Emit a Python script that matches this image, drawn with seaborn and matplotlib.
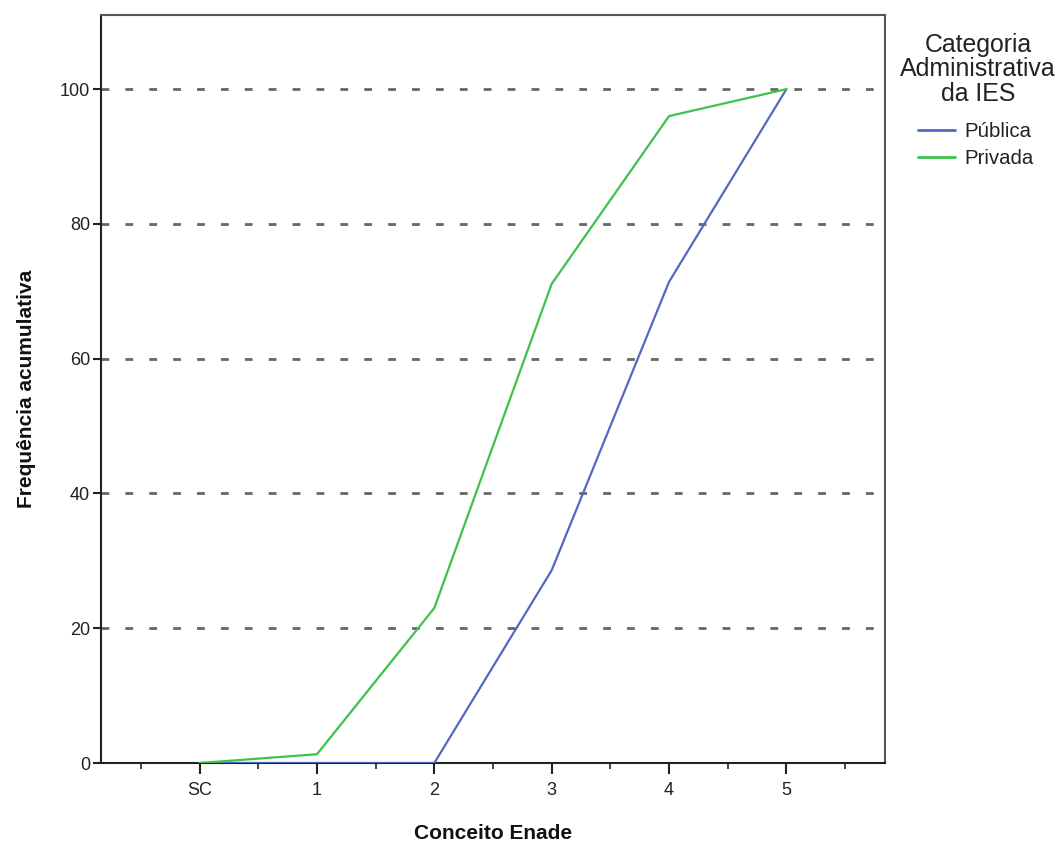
import matplotlib
matplotlib.use("Agg")
import matplotlib.pyplot as plt
import seaborn as sns
import pandas as pd
import numpy as np
from matplotlib.ticker import MultipleLocator
from matplotlib.lines import Line2D

categories = ["SC", "1", "2", "3", "4", "5"]
publica = [0.0, 0.0, 0.0, 28.6, 71.4, 100.0]
privada = [0.0, 1.3, 23.0, 71.1, 96.0, 100.0]
series_names = ["Pública", "Privada"]
yticks = [0, 20, 40, 60, 80, 100]
legend_title = "Categoria\nAdministrativa\nda IES"

sns.set_theme(style="white")
plt.rcParams['font.family'] = ['Liberation Sans', 'DejaVu Sans']

df = pd.DataFrame({
    "pos": list(range(len(categories))) * 2,
    "freq": publica + privada,
    "cat": [series_names[0]] * len(categories) + [series_names[1]] * len(categories),
})

fig = plt.figure(figsize=(10.58, 8.43), dpi=100)
ax = fig.add_axes([101/1058, 1 - 763/843, (885-101)/1058, (763-15)/843])

for y in yticks:
    ax.axhline(y, color="#666666", lw=2.0, ls=(0, (2.8, 5.8)), zorder=1)

palette = {"Pública": "#5468c2", "Privada": "#3dc24b"}
sns.lineplot(data=df, x="pos", y="freq", hue="cat", palette=palette,
             hue_order=series_names, lw=1.6, ax=ax, zorder=3, legend=False)

ax.set_xlim(-0.84, 5.84)
ax.set_ylim(0, 111)
ax.set_xticks(range(len(categories)))
ax.set_xticklabels(categories)
ax.xaxis.set_minor_locator(MultipleLocator(1, offset=0.5))
ax.set_yticks(yticks)
ax.tick_params(axis="x", which="major", direction="out", length=8, width=1.5,
               color="#222222", labelsize=13, pad=6, bottom=True, labelcolor="#222222")
ax.tick_params(axis="x", which="minor", direction="out", length=4, width=1.2,
               color="#222222", bottom=True)
ax.tick_params(axis="y", which="major", direction="out", length=6, width=1.5,
               color="#222222", labelsize=13, pad=2, left=True, labelcolor="#222222")
for s in ax.spines.values():
    s.set_color("#555555")
    s.set_linewidth(1.5)
ax.spines["bottom"].set_color("#222222")
ax.spines["left"].set_color("#222222")

ax.set_xlabel("Conceito Enade", fontsize=15, fontweight="bold", labelpad=18, color="#111111")
ax.set_ylabel("Frequência acumulativa", fontsize=15, fontweight="bold", labelpad=17, color="#111111")

fig.text(978/1058, 1 - 33/843, legend_title, ha="center", va="top",
         multialignment="center", fontsize=17.9, linespacing=1.02, color="#222222")

handles = [Line2D([], [], color=palette[n], lw=2) for n in series_names]
leg = fig.legend(handles, series_names, loc="upper left",
                 bbox_to_anchor=(918/1058, 1 - 122/843),
                 frameon=False, fontsize=14.7, borderpad=0, borderaxespad=0,
                 handlelength=1.8, handletextpad=0.45, labelspacing=0.38)
for t in leg.get_texts():
    t.set_color("#222222")

fig.savefig("out.png", dpi=100)
